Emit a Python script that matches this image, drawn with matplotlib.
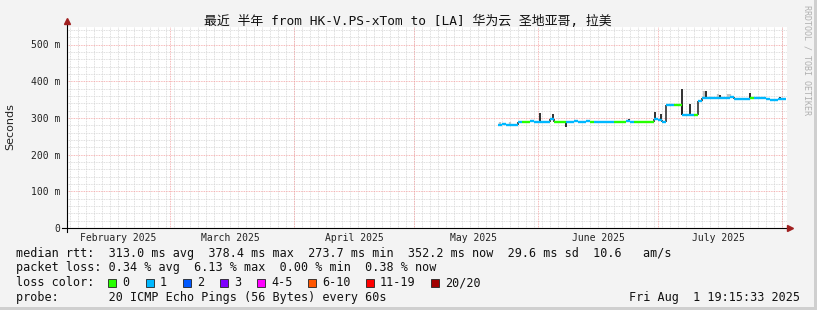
import matplotlib
matplotlib.use('Agg')
import matplotlib.pyplot as plt
import matplotlib.dates as mdates
from matplotlib.lines import Line2D
from matplotlib.patches import Rectangle
from matplotlib.collections import LineCollection
import numpy as np
import pandas as pd

W, H = 817, 310
MONO = 'DejaVu Sans Mono'

# time window of the graph (half a year)
t_start = pd.Timestamp('2025-02-03 06:00')
t_end = t_start + pd.Timedelta(days=180)

month_starts = ['2025-03-01', '2025-04-01', '2025-05-01', '2025-06-01', '2025-07-01', '2025-08-01']
month_labels = ['February 2025', 'March 2025', 'April 2025', 'May 2025', 'June 2025', 'July 2025']
label_dates = ['2025-02-16', '2025-03-16', '2025-04-16', '2025-05-16', '2025-06-16', '2025-07-16']

# daily median rtt (ms), 2025-05-22 .. 2025-08-01
first_day = '2025-05-22'
median_ms = [282, 283, 282, 281, 282, 288, 290, 290, 291, 290,
             289, 288, 289, 296, 290, 290, 290, 290, 290, 291,
             290, 290, 291, 290, 290, 289, 290, 290, 290, 290,
             290, 290, 291, 290, 290, 290, 290, 290, 290, 296,
             293, 289, 334, 335, 335, 335, 308, 307, 308, 307,
             345, 353, 354, 353, 353, 355, 353, 353, 356, 352,
             351, 352, 352, 353, 353, 354, 353, 351, 350, 350,
             351, 352]
# loss colour index per day (0 = no loss, 1 = 1 lost ping)
loss_idx = [1, 1, 1, 1, 1, 1, 0, 0, 1, 1,
            1, 1, 1, 1, 0, 0, 0, 1, 1, 1,
            1, 1, 1, 0, 1, 1, 1, 1, 1, 0,
            0, 0, 1, 1, 0, 0, 0, 0, 0, 1,
            1, 1, 1, 1, 0, 0, 1, 1, 1, 0,
            1, 1, 1, 1, 1, 1, 1, 1, 1, 1,
            1, 1, 1, 0, 1, 1, 1, 1, 1, 1,
            1, 1]

# short dark excursions (time, value ms)
spike_t = ['2025-06-01 12:00', '2025-06-04 18:00', '2025-06-08 00:00', '2025-06-23 18:00',
           '2025-06-30 06:00', '2025-07-01 18:00', '2025-07-07 00:00', '2025-07-09 00:00',
           '2025-07-13 00:00', '2025-07-16 12:00', '2025-07-19 12:00', '2025-07-24 00:00',
           '2025-07-27 12:00', '2025-07-31 12:00']
spike_v = [312, 311, 274, 296, 315, 310, 380, 337, 372, 362, 360, 368, 358, 356]

# light grey smoke
smoke_t = ['2025-05-22 12:00', '2025-05-23 18:00', '2025-05-25 00:00', '2025-07-12 12:00',
           '2025-07-16 00:00', '2025-07-18 12:00', '2025-07-19 00:00']
smoke_v = [288, 287, 288, 372, 365, 366, 364]

loss_names = ['0', '1', '2', '3', '4-5', '6-10', '11-19', '20/20']
loss_colors = ['#26ff00', '#00b8ff', '#0059ff', '#7e00ff', '#ff00ff', '#ff5500', '#ff0000', '#a10000']

legend_lines = [
    'median rtt:  313.0 ms avg  378.4 ms max  273.7 ms min  352.2 ms now  29.6 ms sd  10.6   am/s',
    'packet loss: 0.34 % avg  6.13 % max  0.00 % min  0.38 % now',
    'loss color:',
    'probe:       20 ICMP Echo Pings (56 Bytes) every 60s',
]
stamp = 'Fri Aug  1 19:15:33 2025'


def fx(px):
    return px / W


def fy(py):
    return 1 - py / H


fig = plt.figure(figsize=(W / 100, H / 100), dpi=100)
fig.patch.set_facecolor('#f3f3f3')
# 3d-ish frame
fig.add_artist(Rectangle((fx(814), 0), 3 / W, 1, transform=fig.transFigure, color='#cfcfcf', lw=0))
fig.add_artist(Rectangle((0, 0), 1, 3 / H, transform=fig.transFigure, color='#cfcfcf', lw=0))

ax = fig.add_axes([fx(67), fy(228), 720 / W, 201 / H])
ax.set_facecolor('white')
for s in ax.spines.values():
    s.set_visible(False)

y_top = 201 / 0.367
ax.set_xlim(mdates.date2num(t_start), mdates.date2num(t_end))
ax.set_ylim(0, y_top)

# grid
dash = (0, (1, 1))
for v in np.arange(20, y_top, 20):
    if v % 100:
        ax.axhline(v, color='#d4d4d4', lw=0.6, ls=dash, zorder=1)
minor_days = pd.date_range('2025-02-04', t_end, freq='2D')
for d in minor_days:
    ax.axvline(mdates.date2num(d), color='#d4d4d4', lw=0.6, ls=dash, zorder=1)
for v in range(100, 600, 100):
    ax.axhline(v, color='#f4a0a0', lw=0.6, ls=dash, zorder=2)
for d in month_starts:
    ax.axvline(mdates.date2num(pd.Timestamp(d)), color='#f4a0a0', lw=0.6, ls=dash, zorder=2)

days = mdates.date2num(pd.date_range(first_day, periods=len(median_ms), freq='D'))

# smoke
sm_t = mdates.date2num(pd.to_datetime(smoke_t))
ax.vlines(sm_t, np.interp(sm_t, days, median_ms), smoke_v, color='#c4c4c4', lw=1.6, zorder=3)

# median line, coloured by loss
segs = [[(d, v), (d + 1, v)] for d, v in zip(days, median_ms)]
ax.add_collection(LineCollection(segs, colors=[loss_colors[i] for i in loss_idx], lw=1.7, zorder=5))
joins = [[(days[i], median_ms[i - 1]), (days[i], median_ms[i])]
         for i in range(1, len(days)) if median_ms[i] != median_ms[i - 1]]
ax.add_collection(LineCollection(joins, colors='#202020', lw=1.1, zorder=4))

st = mdates.date2num(pd.to_datetime(spike_t))
base = [median_ms[int(np.searchsorted(days, t, side='right')) - 1] for t in st]
ax.vlines(st, base, spike_v, color='#202020', lw=1.3, zorder=4)

# ticks
ax.set_yticks(range(0, 600, 100))
ax.set_yticklabels(['0'] + ['%d m' % v for v in range(100, 600, 100)],
                   fontsize=7, family=MONO, color='#222222')
ax.set_xticks(mdates.date2num(pd.to_datetime(label_dates)))
ax.set_xticklabels(month_labels, fontsize=7, family=MONO, color='#222222')
ax.tick_params(axis='y', length=0, pad=5)
ax.tick_params(axis='x', length=0, pad=3.5)
fig.text(fx(10), fy(127), 'Seconds', rotation=90, ha='center', va='center',
         fontsize=8, family='DejaVu Sans', color='#222222')

# axes with arrows
fig.add_artist(Line2D([fx(62), fx(789)], [fy(228), fy(228)], color='black', lw=0.8))
fig.add_artist(Line2D([fx(67), fx(67)], [fy(232), fy(23)], color='black', lw=0.8))
fig.add_artist(Line2D([fx(790)], [fy(228)], marker='>', ms=4, color='#a02020', lw=0))
fig.add_artist(Line2D([fx(67)], [fy(21)], marker='^', ms=4, color='#a02020', lw=0))

# title
fig.text(fx(408), fy(21), '最近 半年 from HK-V.PS-xTom to [LA] 华为云 圣地亚哥, 拉美',
         ha='center', va='center', fontsize=9.3, family=[MONO, 'Noto Sans CJK SC'], color='#111111')
fig.text(fx(807), fy(5), 'RRDTOOL / TOBI OETIKER', rotation=270, ha='center', va='top',
         fontsize=6, family=MONO, color='#b0b0b0')

# legend block
lf = dict(fontsize=8.5, family=MONO, color='#111111', va='center')
rows = [254, 268, 283, 297]
for y, s in zip(rows, legend_lines):
    fig.text(fx(16), fy(y), s, **lf)
box_x = [108, 146, 183, 220, 257, 308, 366, 431]
for bx, name, c in zip(box_x, loss_names, loss_colors):
    fig.add_artist(Rectangle((fx(bx), fy(rows[2] + 4)), 8 / W, 8 / H, transform=fig.transFigure,
                             facecolor=c, edgecolor='#222222', lw=0.6))
    fig.text(fx(bx + 14), fy(rows[2]), name, **lf)
fig.text(fx(800), fy(rows[3]), stamp, ha='right', **lf)

fig.savefig('out.png', dpi=100, facecolor=fig.get_facecolor())
